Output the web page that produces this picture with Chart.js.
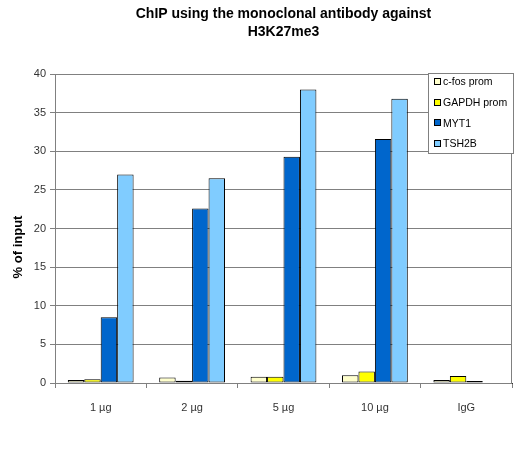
<!DOCTYPE html>
<html>
<head>
<meta charset="utf-8">
<script src="https://cdn.jsdelivr.net/npm/chart.js@4/dist/chart.umd.min.js"></script>
<style>
html,body{margin:0;padding:0;background:#fff;}
#wrap{position:relative;width:514px;height:461px;}
</style>
</head>
<body>
<div id="wrap"><canvas id="c" width="514" height="461"></canvas></div>
<script>
const categories = ['1 µg', '2 µg', '5 µg', '10 µg', 'IgG'];
const seriesNames = ['c-fos prom', 'GAPDH prom', 'MYT1', 'TSH2B'];
const cfos  = [0.4, 0.7, 0.8, 1.0, 0.4];
const gapdh = [0.5, 0.3, 0.8, 1.5, 0.9];
const myt1  = [8.5, 22.6, 29.3, 31.6, 0.25];
const tsh2b = [27.0, 26.5, 38.0, 36.8, 0];
const yTicks = [0, 5, 10, 15, 20, 25, 30, 35, 40];
const titleLines = ['ChIP using the monoclonal antibody against', 'H3K27me3'];
const yTitle = '% of input';

const colors = ['#FFFFCC', '#FFFF00', '#0066CC', '#80CCFF'];
const FONT = '"Liberation Sans", Arial, sans-serif';

const extras = {
  id: 'extras',
  beforeDatasetsDraw(chart) {
    const a = chart.chartArea, ctx = chart.ctx;
    ctx.save();
    ctx.strokeStyle = '#808080';
    ctx.lineWidth = 1;
    ctx.strokeRect(Math.round(a.left) + 0.5, Math.round(a.top) + 0.5, Math.round(a.right - a.left) - 1, Math.round(a.bottom - a.top));
    ctx.restore();
  },
  afterDraw(chart) {
    const a = chart.chartArea, ctx = chart.ctx;
    ctx.save();
    // title
    ctx.fillStyle = '#000';
    ctx.font = 'bold 14px ' + FONT;
    ctx.textAlign = 'center';
    ctx.textBaseline = 'middle';
    const cx = (a.left + a.right) / 2;
    ctx.fillText(titleLines[0], cx, 14);
    ctx.fillText(titleLines[1], cx, 32);
    // y title
    ctx.save();
    ctx.translate(18, 247);
    ctx.rotate(-Math.PI / 2);
    ctx.font = 'bold 13px ' + FONT;
    ctx.fillText(yTitle, 0, 0);
    ctx.restore();
    // legend
    const lx = 428, ly = 73, lw = 86, lh = 80;
    ctx.fillStyle = '#fff';
    ctx.fillRect(lx, ly, lw, lh);
    ctx.strokeStyle = '#808080';
    ctx.strokeRect(lx + 0.5, ly + 0.5, lw - 1, lh);
    ctx.font = '10.5px ' + FONT;
    ctx.textAlign = 'left';
    chart.data.datasets.forEach((ds, i) => {
      const y = 82 + i * 20.7;
      ctx.fillStyle = ds.backgroundColor;
      ctx.fillRect(434.5, Math.round(y) - 3.5, 6, 6);
      ctx.strokeStyle = '#000';
      ctx.strokeRect(434.5, Math.round(y) - 3.5, 6, 6);
      ctx.fillStyle = '#000';
      ctx.fillText(ds.label, 443, y + 0.5);
    });
    ctx.restore();
  }
};

const dataArrays = [cfos, gapdh, myt1, tsh2b];
new Chart(document.getElementById('c'), {
  type: 'bar',
  data: {
    labels: categories,
    datasets: dataArrays.map((d, i) => ({
      label: seriesNames[i],
      data: d,
      backgroundColor: colors[i],
      borderColor: '#000',
      borderWidth: 1,
      borderSkipped: false,
      barPercentage: 1.0,
      categoryPercentage: 0.72
    }))
  },
  options: {
    responsive: false,
    animation: false,
    devicePixelRatio: 1,
    layout: { padding: { top: 74, right: 2, left: 0, bottom: 0 } },
    plugins: { legend: { display: false }, title: { display: false }, tooltip: { enabled: false } },
    scales: {
      x: {
        grid: { display: true, drawOnChartArea: false, drawTicks: true, tickLength: 5, color: '#808080', offset: true },
        border: { display: true, color: '#333' },
        ticks: { color: '#333', font: { family: FONT, size: 11 }, padding: 13, maxRotation: 0 },
        afterFit(s) { s.height = 78; }
      },
      y: {
        min: 0, max: 40,
        afterBuildTicks(s) { s.ticks = yTicks.map(v => ({ value: v })); },
        grid: { color: '#808080', tickLength: 5, drawTicks: true },
        border: { display: true, color: '#808080' },
        ticks: { color: '#333', font: { family: FONT, size: 11 }, padding: 4 },
        afterFit(s) { s.width = 55; }
      }
    }
  },
  plugins: [extras]
});
</script>
</body>
</html>
